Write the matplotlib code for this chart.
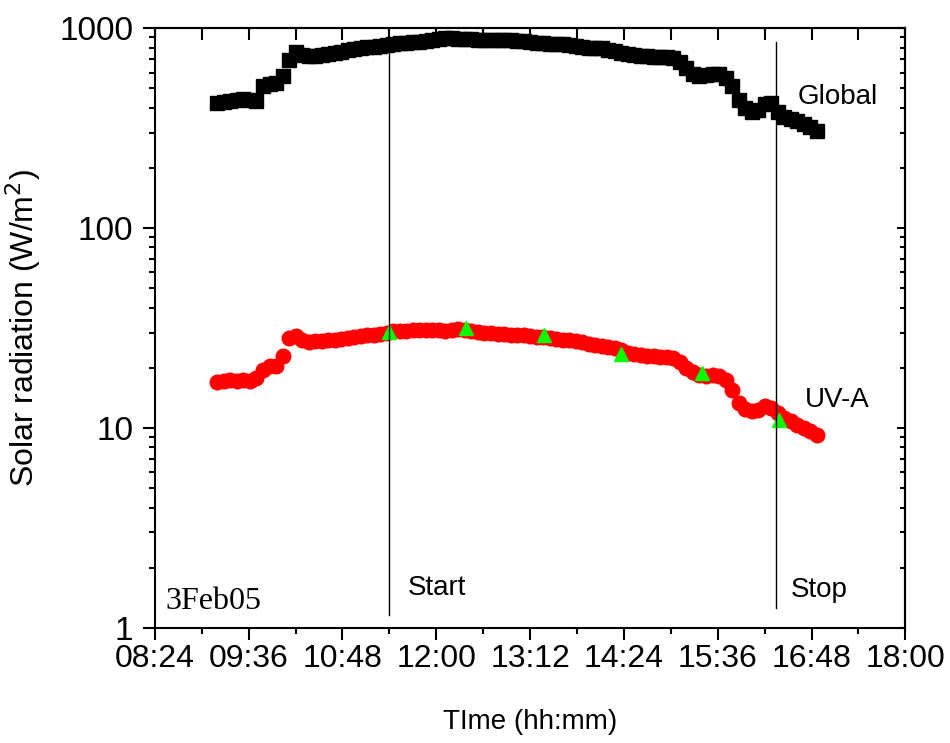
import numpy as np
import matplotlib
matplotlib.use("Agg")
import matplotlib.pyplot as plt
from matplotlib.ticker import FixedLocator, NullFormatter, FuncFormatter

# measurement times (hh:mm), one record every 5 minutes
times = [
    "9:12", "9:17", "9:22", "9:27", "9:32", "9:37", "9:42", "9:47", "9:52", "9:57",
    "10:02", "10:07", "10:12", "10:17", "10:22", "10:27", "10:32", "10:37", "10:42", "10:47", "10:52", "10:57",
    "11:02", "11:07", "11:12", "11:17", "11:22", "11:27", "11:32", "11:37", "11:42", "11:47", "11:52", "11:57",
    "12:02", "12:07", "12:12", "12:17", "12:22", "12:27", "12:32", "12:37", "12:42", "12:47", "12:52", "12:57",
    "13:02", "13:07", "13:12", "13:17", "13:22", "13:27", "13:32", "13:37", "13:42", "13:47", "13:52", "13:57",
    "14:02", "14:07", "14:12", "14:17", "14:22", "14:27", "14:32", "14:37", "14:42", "14:47", "14:52", "14:57",
    "15:02", "15:07", "15:12", "15:17", "15:22", "15:27", "15:32", "15:37", "15:42", "15:47", "15:52", "15:57",
    "16:02", "16:07", "16:12", "16:17", "16:22", "16:27", "16:32", "16:37", "16:42", "16:47", "16:52",
]

# global solar radiation (W/m2)
global_rad = [
    422, 427, 432, 437, 442, 437, 432, 513, 525, 531,
    575, 692, 759, 733, 724, 724, 733, 741, 750, 759, 776, 785,
    794, 804, 804, 813, 822, 832, 841, 841, 851, 851, 861, 871,
    881, 891, 891, 881, 881, 881, 871, 871, 871, 871, 871, 871,
    861, 861, 851, 841, 841, 832, 832, 832, 822, 813, 804, 794,
    794, 794, 776, 767, 750, 741, 733, 724, 724, 716, 716, 716,
    708, 676, 631, 589, 575, 582, 589, 589, 562, 513, 437, 398,
    380, 389, 417, 422, 380, 359, 351, 343, 331, 320, 306,
]

# UV-A radiation (W/m2)
uva_rad = [
    17.0, 17.2, 17.4, 17.2, 17.4, 17.2, 17.8, 19.5, 20.4, 20.4,
    22.9, 28.2, 28.8, 27.5, 26.9, 27.2, 27.2, 27.5, 27.5, 27.9, 28.2, 28.5,
    28.8, 29.2, 29.2, 29.5, 29.9, 30.6, 30.6, 30.6, 30.9, 30.9, 30.9, 30.9,
    30.9, 30.6, 30.9, 31.3, 30.9, 30.6, 30.2, 29.9, 29.9, 29.5, 29.5, 29.2,
    29.2, 29.2, 28.8, 28.5, 28.5, 28.2, 27.9, 27.5, 27.5, 27.2, 26.9, 26.3,
    26.0, 25.7, 25.4, 25.1, 24.5, 23.7, 23.4, 23.2, 22.9, 22.9, 22.6, 22.6,
    22.4, 21.4, 20.0, 19.1, 18.4, 18.2, 18.4, 18.2, 17.4, 15.5, 13.3, 12.5,
    12.2, 12.3, 12.9, 12.6, 11.9, 11.2, 10.8, 10.4, 10.0, 9.7, 9.2,
]

# hourly UV-A check points (green triangles)
check_times = ["11:24", "12:23", "13:23", "14:22", "15:24", "16:23"]
check_uva = [30.3, 31.5, 29.2, 23.4, 18.8, 11.0]

start_time = "11:24"
stop_time = "16:21"

tick_labels = ["08:24", "09:36", "10:48", "12:00", "13:12", "14:24", "15:36", "16:48", "18:00"]


def to_hours(s):
    h, m = s.split(":")
    return int(h) + int(m) / 60.0


t = np.array([to_hours(s) for s in times])
t_check = np.array([to_hours(s) for s in check_times])
tick_pos = [to_hours(s) for s in tick_labels]

plt.rcParams["font.family"] = "Liberation Sans"

fig = plt.figure(figsize=(9.5, 7.43), dpi=100)
ax = fig.add_axes([0.163, 0.155, 0.79, 0.807])

ax.plot(t, global_rad, "s", color="black", markersize=10, zorder=2)
ax.plot(t, uva_rad, "o", color="#ff0000", markersize=10.5, zorder=2)
ax.plot(t_check, check_uva, "^", color="#00ff00", markersize=10, zorder=4)

# start / stop markers
ax.plot([to_hours(start_time)] * 2, [1.16, 850], color="black", lw=1.0, zorder=5)
ax.plot([to_hours(stop_time)] * 2, [1.26, 850], color="black", lw=1.0, zorder=5)

ax.set_yscale("log")
ax.set_ylim(1, 1000)
ax.set_xlim(8.4, 18.0)

ax.set_xticks(tick_pos)
ax.set_xticklabels(tick_labels, fontsize=23)
ax.xaxis.set_minor_locator(FixedLocator(np.array(tick_pos[:-1]) + 0.6))
ax.yaxis.set_major_formatter(FuncFormatter(lambda v, p: "%d" % v))
ax.yaxis.set_minor_formatter(NullFormatter())
ax.tick_params(axis="y", which="both", labelsize=24)

ax.tick_params(which="major", direction="out", length=8.5, width=1.5,
               top=False, right=False)
ax.tick_params(which="minor", direction="out", length=4.5, width=1.5,
               top=False, right=False)
ax.tick_params(axis="x", which="major", pad=3)
ax.tick_params(axis="y", which="major", pad=7)
for sp in ax.spines.values():
    sp.set_linewidth(1.5)

# top ticks point inward, all the same length
top = ax.secondary_xaxis("top")
top.set_xticks(list(tick_pos) + list(np.array(tick_pos[:-1]) + 0.6))
top.tick_params(direction="in", length=8.5, width=1.5, labeltop=False)
top.xaxis.set_minor_locator(FixedLocator([]))
top.spines["top"].set_linewidth(1.5)

# right ticks point inward
right = ax.secondary_yaxis("right")
right.tick_params(which="major", direction="in", length=6, width=1.5, labelright=False)
right.tick_params(which="minor", direction="in", length=3.5, width=1.5, labelright=False)
right.spines["right"].set_linewidth(1.5)

ax.set_ylabel("Solar radiation (W/m$^2$)", fontsize=23)
ax.yaxis.set_label_coords(-0.149, 0.5)
ax.set_xlabel("TIme (hh:mm)", fontsize=20)
ax.xaxis.set_label_coords(0.5, -0.135)

ax.text(16.62, 452, "Global", fontsize=20, va="center", ha="left")
ax.text(16.72, 13.8, "UV-A", fontsize=20, va="center", ha="left")
ax.text(11.63, 1.585, "Start", fontsize=20, va="center", ha="left")
ax.text(16.53, 1.55, "Stop", fontsize=20, va="center", ha="left")
ax.text(8.54, 1.36, "3Feb05", fontfamily="Liberation Serif", fontsize=23, va="center", ha="left")

fig.savefig("out.png", dpi=100)
